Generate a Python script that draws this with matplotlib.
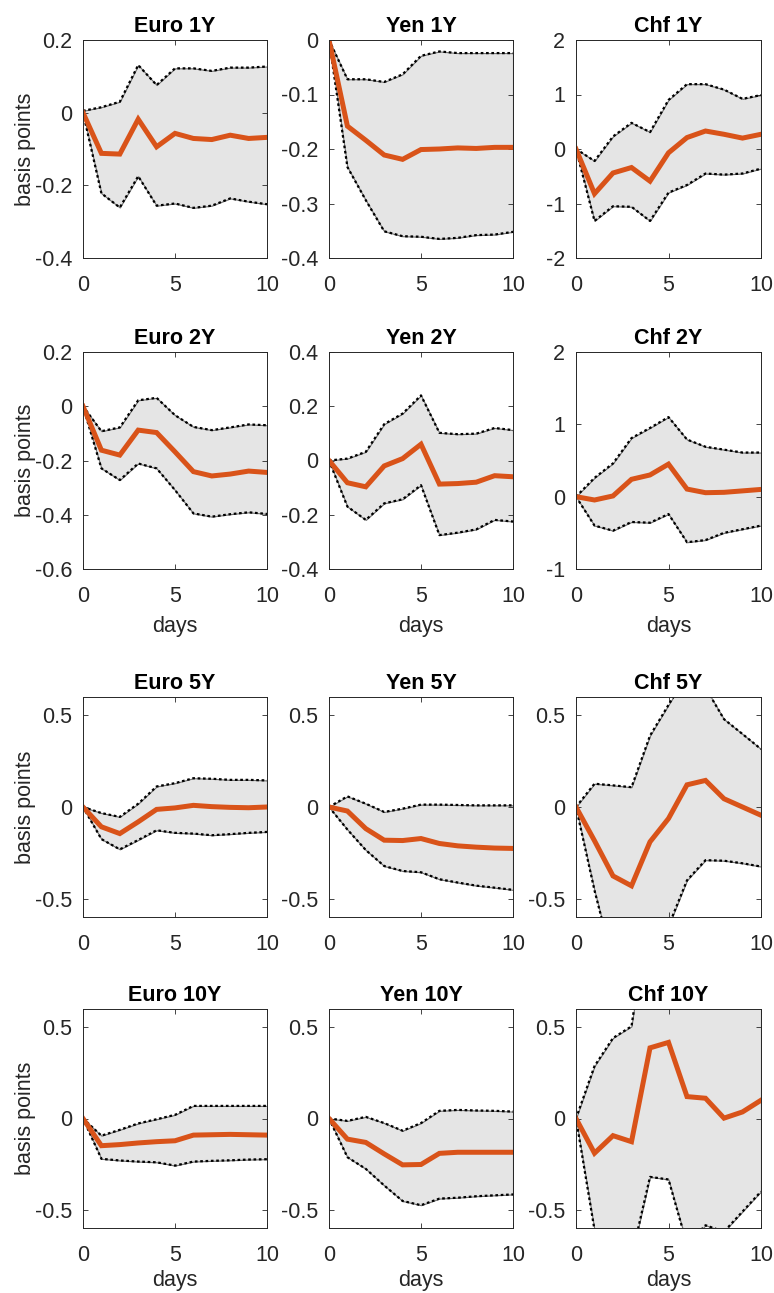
import matplotlib
matplotlib.use("Agg")
import matplotlib.pyplot as plt
from matplotlib.ticker import FuncFormatter

plt.rcParams["font.family"] = ["Liberation Sans", "DejaVu Sans"]
plt.rcParams["axes.unicode_minus"] = False

days = list(range(11))

# Impulse responses (median) and confidence bands, basis points
euro_1y_mid = [0, -0.112, -0.114, -0.018, -0.094, -0.057, -0.071, -0.074, -0.062, -0.071, -0.068]
euro_1y_hi = [0.005, 0.015, 0.030, 0.131, 0.076, 0.122, 0.122, 0.115, 0.124, 0.124, 0.127]
euro_1y_lo = [0, -0.222, -0.261, -0.175, -0.256, -0.250, -0.262, -0.256, -0.236, -0.245, -0.252]

yen_1y_mid = [0, -0.158, -0.184, -0.211, -0.219, -0.201, -0.200, -0.198, -0.199, -0.197, -0.197]
yen_1y_hi = [0, -0.072, -0.072, -0.077, -0.063, -0.029, -0.021, -0.024, -0.024, -0.024, -0.024]
yen_1y_lo = [0, -0.233, -0.294, -0.351, -0.360, -0.361, -0.365, -0.363, -0.358, -0.357, -0.352]

chf_1y_mid = [0, -0.82, -0.44, -0.34, -0.59, -0.07, 0.21, 0.33, 0.27, 0.20, 0.27]
chf_1y_hi = [0, -0.22, 0.23, 0.48, 0.31, 0.90, 1.19, 1.19, 1.09, 0.92, 0.99]
chf_1y_lo = [0, -1.32, -1.05, -1.06, -1.32, -0.80, -0.66, -0.45, -0.47, -0.45, -0.36]

euro_2y_mid = [0, -0.162, -0.180, -0.088, -0.097, -0.168, -0.241, -0.257, -0.250, -0.239, -0.244]
euro_2y_hi = [0, -0.092, -0.078, 0.022, 0.031, -0.033, -0.076, -0.088, -0.078, -0.067, -0.070]
euro_2y_lo = [0, -0.229, -0.272, -0.211, -0.229, -0.309, -0.395, -0.407, -0.398, -0.391, -0.397]

yen_2y_mid = [0, -0.082, -0.097, -0.020, 0.007, 0.060, -0.087, -0.085, -0.080, -0.056, -0.060]
yen_2y_hi = [0, 0.007, 0.032, 0.134, 0.173, 0.240, 0.102, 0.097, 0.099, 0.120, 0.112]
yen_2y_lo = [0, -0.170, -0.219, -0.158, -0.143, -0.091, -0.275, -0.266, -0.254, -0.219, -0.225]

chf_2y_mid = [0, -0.046, 0.010, 0.240, 0.300, 0.450, 0.105, 0.055, 0.060, 0.080, 0.100]
chf_2y_hi = [0, 0.26, 0.46, 0.81, 0.95, 1.10, 0.79, 0.69, 0.65, 0.61, 0.61]
chf_2y_lo = [0, -0.40, -0.47, -0.35, -0.36, -0.24, -0.63, -0.60, -0.50, -0.45, -0.40]

euro_5y_mid = [0, -0.108, -0.145, -0.081, -0.013, -0.005, 0.009, 0.002, -0.002, -0.004, 0.0]
euro_5y_hi = [0, -0.033, -0.054, 0.018, 0.112, 0.130, 0.157, 0.154, 0.148, 0.148, 0.145]
euro_5y_lo = [0, -0.175, -0.231, -0.180, -0.127, -0.141, -0.145, -0.154, -0.148, -0.141, -0.136]

yen_5y_mid = [0, -0.022, -0.118, -0.181, -0.183, -0.172, -0.199, -0.212, -0.219, -0.224, -0.226]
yen_5y_hi = [0, 0.058, 0.018, -0.027, -0.009, 0.013, 0.013, 0.011, 0.009, 0.009, 0.009]
yen_5y_lo = [0, -0.123, -0.235, -0.322, -0.349, -0.356, -0.394, -0.412, -0.429, -0.440, -0.452]

chf_5y_mid = [0, -0.184, -0.376, -0.430, -0.190, -0.063, 0.121, 0.145, 0.045, 0.0, -0.045]
chf_5y_hi = [0, 0.127, 0.118, 0.108, 0.389, 0.557, 0.720, 0.650, 0.479, 0.398, 0.316]
chf_5y_lo = [0, -0.455, -0.850, -0.900, -0.800, -0.650, -0.400, -0.290, -0.293, -0.307, -0.325]

euro_10y_mid = [0, -0.149, -0.143, -0.134, -0.127, -0.122, -0.091, -0.089, -0.087, -0.089, -0.091]
euro_10y_hi = [0, -0.094, -0.062, -0.027, -0.004, 0.020, 0.069, 0.069, 0.069, 0.069, 0.069]
euro_10y_lo = [0, -0.221, -0.230, -0.236, -0.240, -0.258, -0.236, -0.232, -0.229, -0.225, -0.223]

yen_10y_mid = [0, -0.113, -0.131, -0.194, -0.254, -0.252, -0.191, -0.185, -0.185, -0.185, -0.185]
yen_10y_hi = [0, -0.013, 0.009, -0.025, -0.067, -0.025, 0.042, 0.047, 0.044, 0.042, 0.038]
yen_10y_lo = [0, -0.212, -0.276, -0.367, -0.452, -0.475, -0.439, -0.434, -0.426, -0.421, -0.416]

chf_10y_mid = [0, -0.190, -0.094, -0.127, 0.387, 0.417, 0.120, 0.111, 0.002, 0.036, 0.100]
chf_10y_hi = [0, 0.287, 0.441, 0.505, 1.20, 1.30, 1.00, 0.95, 0.90, 0.90, 0.95]
chf_10y_lo = [0, -0.610, -0.620, -0.760, -0.320, -0.334, -0.690, -0.585, -0.620, -0.510, -0.400]

titles = ["Euro 1Y", "Yen 1Y", "Chf 1Y",
          "Euro 2Y", "Yen 2Y", "Chf 2Y",
          "Euro 5Y", "Yen 5Y", "Chf 5Y",
          "Euro 10Y", "Yen 10Y", "Chf 10Y"]

mids = [euro_1y_mid, yen_1y_mid, chf_1y_mid,
        euro_2y_mid, yen_2y_mid, chf_2y_mid,
        euro_5y_mid, yen_5y_mid, chf_5y_mid,
        euro_10y_mid, yen_10y_mid, chf_10y_mid]
his = [euro_1y_hi, yen_1y_hi, chf_1y_hi,
       euro_2y_hi, yen_2y_hi, chf_2y_hi,
       euro_5y_hi, yen_5y_hi, chf_5y_hi,
       euro_10y_hi, yen_10y_hi, chf_10y_hi]
los = [euro_1y_lo, yen_1y_lo, chf_1y_lo,
       euro_2y_lo, yen_2y_lo, chf_2y_lo,
       euro_5y_lo, yen_5y_lo, chf_5y_lo,
       euro_10y_lo, yen_10y_lo, chf_10y_lo]

ylims = [(-0.4, 0.2), (-0.4, 0.0), (-2, 2),
         (-0.6, 0.2), (-0.4, 0.4), (-1, 2),
         (-0.6, 0.6), (-0.6, 0.6), (-0.6, 0.6),
         (-0.6, 0.6), (-0.6, 0.6), (-0.6, 0.6)]
yticks = [[-0.4, -0.2, 0, 0.2], [-0.4, -0.3, -0.2, -0.1, 0], [-2, -1, 0, 1, 2],
          [-0.6, -0.4, -0.2, 0, 0.2], [-0.4, -0.2, 0, 0.2, 0.4], [-1, 0, 1, 2],
          [-0.5, 0, 0.5], [-0.5, 0, 0.5], [-0.5, 0, 0.5],
          [-0.5, 0, 0.5], [-0.5, 0, 0.5], [-0.5, 0, 0.5]]

W, H = 774, 1293
fig = plt.figure(figsize=(W / 100, H / 100), dpi=100)

col_left = [83, 329, 576]
col_width = [184, 184, 185]
row_top = [40, 352, 697, 1009]
row_bottom = [258, 569, 917, 1228]

ink = "#262626"
orange = "#D95319"
fs = 15.5


def fmt(v, _pos):
    s = f"{v:.2f}".rstrip("0").rstrip(".")
    return "0" if s in ("-0", "0") else s


for i in range(12):
    r, c = divmod(i, 3)
    l, w = col_left[c], col_width[c]
    t, b = row_top[r], row_bottom[r]
    ax = fig.add_axes([l / W, 1 - b / H, w / W, (b - t) / H])

    ax.fill_between(days, los[i], his[i], facecolor="#e5e5e5",
                    edgecolor="#6e6e6e", linewidth=0.8, zorder=1)
    ax.plot(days, his[i], color="black", linestyle=(0, (1.2, 1.2)), linewidth=1.6, zorder=2)
    ax.plot(days, los[i], color="black", linestyle=(0, (1.2, 1.2)), linewidth=1.6, zorder=2)
    ax.plot(days, mids[i], color=orange, linewidth=3.6, zorder=3, solid_joinstyle="miter")

    ax.set_xlim(0, 10)
    ax.set_ylim(*ylims[i])
    ax.set_xticks([0, 5, 10])
    ax.set_yticks(yticks[i])
    ax.yaxis.set_major_formatter(FuncFormatter(fmt))

    ax.tick_params(direction="in", top=True, right=True, length=3.5, width=0.6,
                   color=ink, labelcolor=ink, labelsize=fs)
    ax.tick_params(axis="x", pad=12)
    ax.tick_params(axis="y", pad=8)
    for sp in ax.spines.values():
        sp.set_color(ink)
        sp.set_linewidth(0.7)
        sp.set_zorder(5)

    ax.set_title(titles[i], fontsize=fs, fontweight="bold", color="black", pad=6)
    if c == 0:
        ax.set_ylabel("basis points", fontsize=fs, color=ink, labelpad=-1)
    if r == 1:
        ax.set_xlabel("days", fontsize=fs, color=ink, labelpad=7)
    elif r == 3:
        ax.set_xlabel("days", fontsize=fs, color=ink, labelpad=3)

fig.savefig("out.png", dpi=100, facecolor="white")
